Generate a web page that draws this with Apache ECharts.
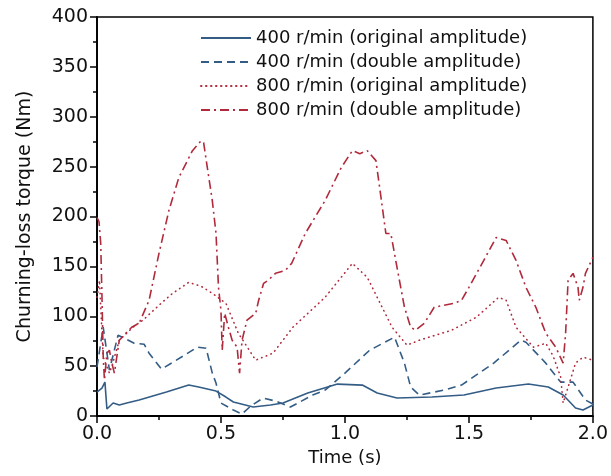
<!DOCTYPE html>
<html>
<head>
<meta charset="utf-8">
<script src="https://cdn.jsdelivr.net/npm/echarts@6/dist/echarts.min.js"></script>
<style>
html,body{margin:0;padding:0;background:#fff;}
#chart{width:611px;height:476px;}
</style>
</head>
<body>
<div id="chart"></div>
<script>
var seriesNames = [
  '400 r/min (original amplitude)',
  '400 r/min (double amplitude)',
  '800 r/min (original amplitude)',
  '800 r/min (double amplitude)'
];
var xTicks = [0, 0.5, 1.0, 1.5, 2.0];
var yTicks = [0, 50, 100, 150, 200, 250, 300, 350, 400];

var t1 = [0, 0.02, 0.032, 0.04, 0.065, 0.09, 0.12, 0.17, 0.28, 0.37, 0.41, 0.48, 0.52, 0.55, 0.63, 0.7, 0.75, 0.85, 0.97, 1.07, 1.13, 1.21, 1.35, 1.48, 1.61, 1.74, 1.82, 1.88, 1.93, 1.96, 2.0];
var v1 = [24, 28, 34, 7, 13, 11, 13, 16, 24, 31, 29, 25, 19, 14, 9, 11, 13, 23, 32, 31, 23, 18, 19, 21, 28, 32, 29, 21, 8, 6, 11];

var t2 = [0, 0.025, 0.05, 0.085, 0.15, 0.19, 0.21, 0.26, 0.32, 0.405, 0.44, 0.465, 0.48, 0.5, 0.55, 0.585, 0.62, 0.67, 0.72, 0.78, 0.87, 0.92, 1.0, 1.1, 1.2, 1.24, 1.265, 1.3, 1.4, 1.47, 1.6, 1.71, 1.73, 1.81, 1.87, 1.92, 1.97, 2.0];
var v2 = [49, 89, 46, 81, 73, 72, 63, 47, 56, 69, 68, 43, 33, 13, 6, 2, 10, 18, 15, 9, 21, 26, 43, 66, 79, 53, 29, 21, 26, 31, 53, 76, 74, 53, 34, 34, 16, 12];

var t3 = [0, 0.01, 0.025, 0.05, 0.06, 0.09, 0.145, 0.185, 0.25, 0.3, 0.37, 0.42, 0.465, 0.52, 0.57, 0.64, 0.71, 0.79, 0.92, 1.03, 1.09, 1.19, 1.25, 1.3, 1.43, 1.53, 1.62, 1.65, 1.69, 1.76, 1.81, 1.84, 1.87, 1.88, 1.93, 1.96, 2.0];
var v3 = [119, 136, 59, 43, 50, 76, 89, 96, 111, 122, 134, 130, 123, 113, 83, 56, 63, 89, 119, 153, 139, 89, 71, 76, 86, 99, 119, 116, 89, 69, 73, 60, 39, 13, 53, 59, 56];

var t4 = [0, 0.008, 0.015, 0.02, 0.025, 0.03, 0.04, 0.05, 0.06, 0.07, 0.09, 0.105, 0.14, 0.17, 0.21, 0.25, 0.29, 0.33, 0.385, 0.42, 0.43, 0.445, 0.465, 0.48, 0.49, 0.5, 0.505, 0.515, 0.53, 0.545, 0.565, 0.575, 0.585, 0.605, 0.64, 0.652, 0.672, 0.69, 0.72, 0.76, 0.785, 0.84, 0.92, 0.985, 1.03, 1.06, 1.09, 1.125, 1.14, 1.165, 1.185, 1.21, 1.24, 1.265, 1.285, 1.32, 1.36, 1.44, 1.47, 1.5, 1.56, 1.61, 1.65, 1.69, 1.73, 1.77, 1.81, 1.85, 1.88, 1.89, 1.9, 1.92, 1.94, 1.945, 1.96, 1.97, 2.0];
var v4 = [199, 195, 173, 120, 60, 36, 63, 66, 53, 43, 76, 80, 89, 93, 116, 163, 206, 239, 266, 276, 274, 249, 216, 183, 129, 106, 66, 103, 89, 76, 69, 43, 76, 96, 103, 116, 133, 136, 143, 146, 153, 183, 216, 249, 266, 263, 266, 256, 229, 183, 183, 149, 109, 89, 86, 93, 109, 113, 116, 129, 156, 179, 176, 156, 129, 109, 83, 69, 53, 83, 136, 143, 129, 116, 129, 143, 159];

function pairs(t, v) { return t.map(function (x, i) { return [x, v[i]]; }); }

var BLUE = '#345d86';
var RED = '#b02a3c';
var FONT = 'DejaVu Sans';

var chart = echarts.init(document.getElementById('chart'), null, {renderer: 'canvas'});

function mkSeries(name, data, color, type, cap) {
  return {
    name: name, type: 'line', data: data, symbol: 'none', smooth: false,
    lineStyle: {color: color, width: 1.6, type: type, cap: cap || 'butt'},
    itemStyle: {color: color},
    emphasis: {disabled: true}, animation: false
  };
}

chart.setOption({
  animation: false,
  grid: {left: 97, right: 14, top: 17, bottom: 60, show: true, borderColor: '#000', borderWidth: 1.5},
  legend: {
    orient: 'vertical', left: 195, top: 24, itemWidth: 50, itemHeight: 14, itemGap: 6,
    itemStyle: {opacity: 0},
    textStyle: {fontFamily: FONT, fontSize: 18, color: '#111', lineHeight: 18},
    data: seriesNames
  },
  xAxis: {
    type: 'value', min: xTicks[0], max: xTicks[xTicks.length - 1], interval: 0.5,
    name: 'Time (s)', nameLocation: 'middle', nameGap: 33,
    nameTextStyle: {fontFamily: FONT, fontSize: 18, color: '#111'},
    axisLine: {show: true, onZero: false, lineStyle: {color: '#000', width: 1.8}},
    axisTick: {show: true, inside: false, length: 7, lineStyle: {color: '#000', width: 1.5}},
    minorTick: {show: true, splitNumber: 2, length: 4, lineStyle: {color: '#000', width: 1.5}},
    splitLine: {show: false},
    axisLabel: {fontFamily: FONT, fontSize: 19, color: '#111', margin: 9,
      formatter: function (v) { return v.toFixed(1); }}
  },
  yAxis: {
    type: 'value', min: yTicks[0], max: yTicks[yTicks.length - 1], interval: 50,
    name: 'Churning-loss torque (Nm)', nameLocation: 'middle', nameGap: 62,
    nameTextStyle: {fontFamily: FONT, fontSize: 19, color: '#111'},
    axisLine: {show: true, onZero: false, lineStyle: {color: '#000', width: 1.8}},
    axisTick: {show: true, inside: false, length: 7, lineStyle: {color: '#000', width: 1.5}},
    minorTick: {show: true, splitNumber: 2, length: 4, lineStyle: {color: '#000', width: 1.5}},
    splitLine: {show: false},
    axisLabel: {fontFamily: FONT, fontSize: 19, color: '#111', margin: 9}
  },
  series: [
    mkSeries(seriesNames[0], pairs(t1, v1), BLUE, 'solid'),
    mkSeries(seriesNames[1], pairs(t2, v2), BLUE, [8, 5]),
    mkSeries(seriesNames[2], pairs(t3, v3), RED, [0.5, 4.5], 'round'),
    mkSeries(seriesNames[3], pairs(t4, v4), RED, [9, 4, 2, 4])
  ]
});
</script>
</body>
</html>
